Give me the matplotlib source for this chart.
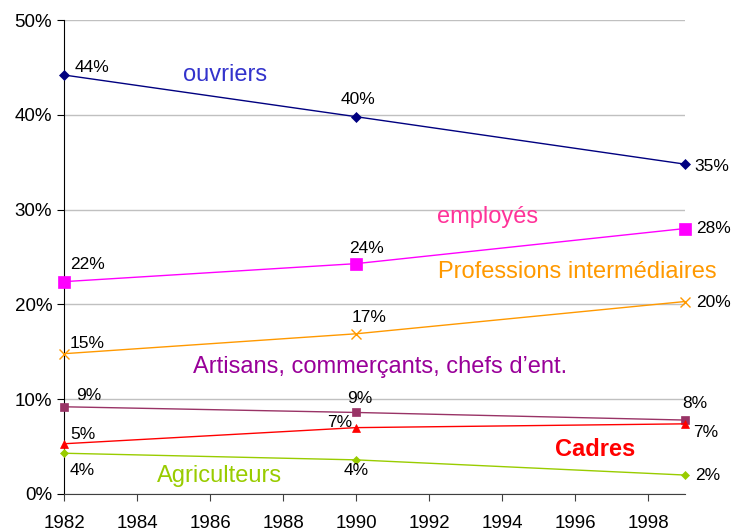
import matplotlib
matplotlib.use("Agg")
import matplotlib.pyplot as plt

plt.rcParams['font.family'] = ['Liberation Sans', 'DejaVu Sans']

# Data (share of each category, %)
years = [1982, 1990, 1999]
ouvriers = [44.2, 39.8, 34.8]
employes = [22.4, 24.3, 28.0]
prof_inter = [14.8, 16.9, 20.3]
artisans = [9.2, 8.6, 7.8]
cadres = [5.3, 7.0, 7.4]
agriculteurs = [4.3, 3.6, 2.0]

x_ticks = list(range(1982, 1999, 2))
y_ticks = [0, 10, 20, 30, 40, 50]

PX = 0.72  # pixels -> points at dpi 100

# name, values, line colour, marker, marker size, label text colour,
# label position, bold, point-label offsets in pixels (dx, dy, ha)
series = [
    ("ouvriers", ouvriers, "#000080", "D", 5, "#3333CC", (1986.4, 44.2), False,
     [(11, 7, "left"), (2, 17, "center"), (10, -2, "left")]),
    ("employés", employes, "#FF00FF", "s", 8, "#FF3399", (1993.6, 29.2), False,
     [(6, 17, "left"), (10, 15, "center"), (11, 0, "left")]),
    ("Professions intermédiaires", prof_inter, "#FF9900", "x", 7, "#FF9900", (1996.05, 23.4), False,
     [(6, 10, "left"), (13, 16, "center"), (11, -1, "left")]),
    ("Artisans, commerçants, chefs d\u2019ent.", artisans, "#993366", "s", 6, "#990099", (1990.65, 13.4), False,
     [(12, 11, "left"), (4, 14, "center"), (-2, 17, "left")]),
    ("Cadres", cadres, "#FF0000", "^", 6, "#FF0000", (1996.55, 4.7), True,
     [(6, 9, "left"), (-4, 5, "right"), (8, -9, "left")]),
    ("Agriculteurs", agriculteurs, "#99CC00", "D", 4.5, "#99CC00", (1986.25, 1.9), False,
     [(6, -17, "left"), (0, -11, "center"), (10, 0, "left")]),
]

fig = plt.figure(figsize=(7.31, 5.31), dpi=100)
ax = fig.add_axes([0.0876, 0.0697, 0.849, 0.8926])

for name, vals, col, mk, ms, tcol, pos, bold, offs in series:
    ax.plot(years, vals, color=col, lw=1.0, marker=mk, markersize=ms,
            markeredgewidth=1.0 if mk == "x" else 0.5, zorder=3, clip_on=False)
    for xv, yv, (dx, dy, ha) in zip(years, vals, offs):
        ax.annotate(f"{yv:.0f}%", (xv, yv), xytext=(dx * PX, dy * PX),
                    textcoords="offset points", ha=ha, va="center",
                    fontsize=12.5, color="black")
    ax.text(pos[0], pos[1], name, color=tcol, fontsize=17, ha="center", va="center",
            fontweight="bold" if bold else "normal")

ax.set_xlim(1982, 1999)
ax.set_ylim(0, 50)
ax.set_xticks(x_ticks)
ax.set_yticks(y_ticks)
ax.set_yticklabels([f"{t}%" for t in y_ticks])
ax.tick_params(axis="both", labelsize=13.5, direction="out", length=5)
ax.tick_params(axis="x", pad=10, color="#404040")
ax.grid(axis="y", color="#C0C0C0", lw=1)
ax.set_axisbelow(True)
ax.spines["top"].set_visible(False)
ax.spines["right"].set_visible(False)
ax.spines["bottom"].set_color("#404040")

fig.savefig("out.png", dpi=100)
